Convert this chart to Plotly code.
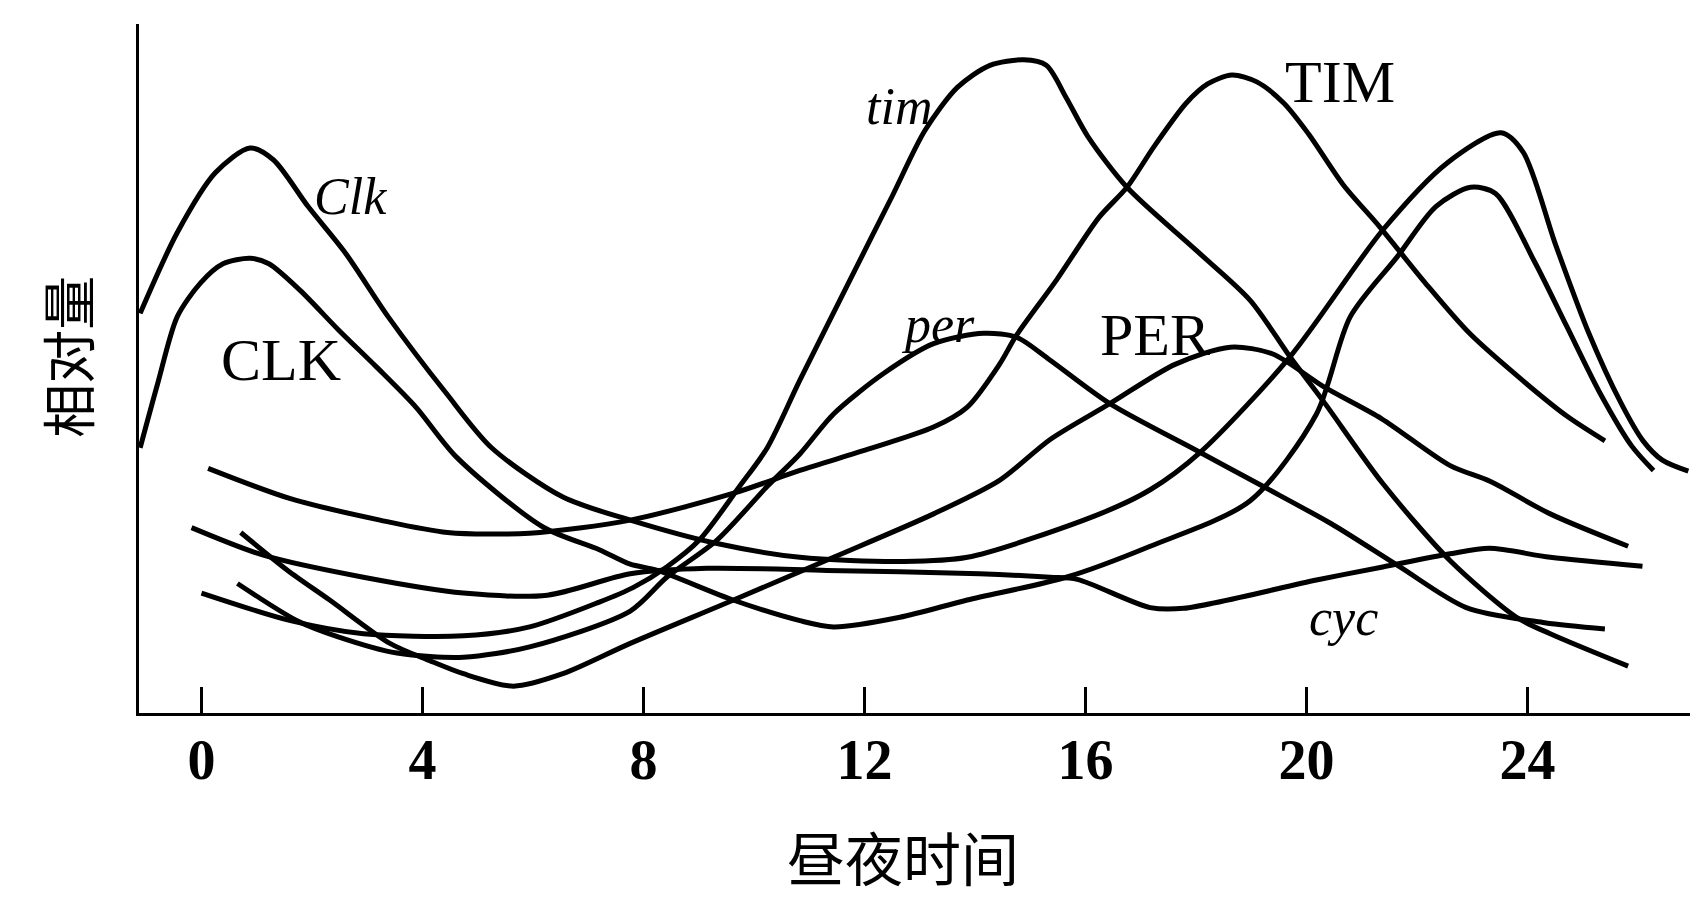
import plotly.graph_objects as go

# ---- data (hours of circadian time, relative amount 0-100) ----
clk_mrna_h = [-1.11, -0.44, 0.25, 0.88, 1.30, 1.93, 2.61, 3.38, 4.43, 5.25, 6.55, 7.76, 9.33, 10.83,
              12.64, 13.86, 16.26, 17.17, 18.07, 19.70, 21.38, 22.54, 23.52, 23.92, 24.51, 25.10,
              25.69, 26.09, 26.44, 26.91]
clk_mrna_v = [58.0, 69.7, 78.4, 82.0, 80.3, 73.5, 66.7, 57.5, 46.4, 38.5, 31.3, 28.0, 24.6, 22.6,
              22.0, 22.6, 28.9, 32.4, 37.8, 51.7, 70.1, 79.8, 84.2, 81.4, 67.9, 55.3,
              45.0, 39.5, 36.7, 35.1]

clk_prot_h = [-1.11, -0.79, -0.44, -0.02, 0.39, 0.88, 1.22, 1.79, 2.48, 3.17, 3.88, 4.62, 6.18, 7.20,
              7.76, 8.25, 9.62, 10.83, 11.44, 12.64, 13.86, 15.65, 17.17, 18.98, 20.18, 20.79,
              21.64, 22.34, 22.97, 23.42, 24.12, 24.71, 25.30, 25.89, 26.28]
clk_prot_v = [38.5, 47.9, 57.5, 62.4, 65.2, 66.0, 65.2, 61.3, 55.6, 50.2, 44.4, 37.1, 27.0, 23.7,
              21.6, 20.7, 16.4, 13.4, 12.5, 13.9, 16.4, 19.7, 24.2, 30.8, 43.4, 57.5,
              66.2, 73.5, 76.3, 75.4, 65.6, 56.1, 46.6, 38.7, 35.2]

tim_mrna_h = [0.0, 1.61, 2.93, 4.74, 5.94, 7.20, 7.81, 8.42, 9.01, 9.74, 10.24, 10.83, 11.74, 12.50,
              13.09, 13.68, 14.27, 14.88, 15.29, 15.65, 16.04, 16.75, 18.01, 18.98, 19.70, 20.30,
              21.38, 22.60, 23.80, 24.41, 25.82]
tim_mrna_v = [17.4, 13.4, 11.5, 11.2, 12.5, 16.1, 18.2, 21.2, 25.1, 32.9, 38.5, 48.3, 62.9, 75.0,
              84.5, 90.8, 94.0, 94.8, 94.0, 89.3, 83.7, 76.3, 67.1, 59.9, 51.7, 45.3,
              33.3, 22.1, 13.9, 11.5, 6.8]

tim_prot_h = [0.12, 1.61, 3.23, 4.45, 5.94, 7.76, 9.63, 10.83, 12.11, 13.25, 13.86, 14.45, 14.74,
              15.48, 16.24, 16.75, 17.23, 17.82, 18.21, 18.65, 19.10, 19.59, 20.04, 20.67, 21.32,
              22.15, 22.95, 23.92, 24.71, 25.40]
tim_prot_v = [35.5, 31.1, 28.0, 26.2, 26.1, 28.0, 31.9, 35.2, 38.4, 41.5, 44.4, 50.7, 54.7,
              62.9, 71.9, 76.3, 82.1, 88.5, 91.3, 92.6, 91.6, 88.5, 84.0, 76.6, 70.6,
              62.4, 55.1, 48.2, 43.1, 39.5]

per_mrna_h = [0.65, 1.73, 2.46, 3.54, 4.74, 5.94, 7.76, 8.42, 9.33, 10.24, 10.83, 11.44, 12.35,
              13.25, 14.16, 14.76, 15.36, 16.44, 18.01, 19.21, 20.44, 21.69, 22.89, 24.31, 25.40]
per_mrna_v = [18.8, 13.4, 11.1, 8.7, 8.1, 9.6, 14.8, 19.7, 25.1, 32.9, 37.6, 43.4, 49.3,
              53.6, 55.1, 54.5, 51.2, 44.9, 38.1, 32.9, 27.5, 21.2, 15.3, 13.1, 12.2]

per_prot_h = [0.71, 1.56, 2.32, 3.41, 4.13, 4.74, 5.65, 6.54, 7.76, 9.63, 11.44, 13.25, 14.45,
              15.36, 16.44, 17.62, 18.62, 19.39, 20.30, 21.36, 22.60, 23.33, 24.41, 25.82]
per_prot_v = [26.2, 20.7, 16.4, 10.1, 7.6, 5.7, 3.9, 5.7, 10.1, 16.4, 22.6, 28.9, 33.8,
              39.7, 44.9, 50.6, 53.1, 52.1, 47.4, 42.7, 35.9, 33.6, 28.9, 24.2]

cyc_mrna_h = [-0.18, 1.12, 2.93, 4.74, 6.26, 7.76, 9.15, 11.32, 14.08, 15.36, 15.85, 17.17, 17.78,
              20.18, 21.38, 22.60, 23.31, 24.41, 26.08]
cyc_mrna_v = [26.9, 22.9, 19.7, 17.4, 17.1, 20.2, 21.0, 20.7, 20.2, 19.7, 19.4, 15.3, 15.2,
              19.3, 21.2, 23.1, 23.9, 22.6, 21.3]

tick_vals = [0, 4, 8, 12, 16, 20, 24]
tick_text = ["0", "4", "8", "12", "16", "20", "24"]

labels = ["<i>Clk</i>", "CLK", "<i>tim</i>", "TIM", "<i>per</i>", "PER", "<i>cyc</i>"]
label_h = [2.70, 1.44, 12.62, 20.61, 13.33, 17.26, 20.67]
label_v = [74.9, 51.3, 88.0, 91.6, 56.4, 54.8, 13.9]
label_size = [52, 60, 52, 60, 52, 60, 52]

x_title = "昼夜时间"
y_title = "相对量"

# ---- figure ----
fig = go.Figure()
series = [
    (clk_mrna_h, clk_mrna_v), (clk_prot_h, clk_prot_v),
    (tim_mrna_h, tim_mrna_v), (tim_prot_h, tim_prot_v),
    (per_mrna_h, per_mrna_v), (per_prot_h, per_prot_v),
    (cyc_mrna_h, cyc_mrna_v),
]
for xs, ys in series:
    fig.add_trace(go.Scatter(
        x=xs, y=ys, mode="lines",
        line=dict(color="black", width=5, shape="spline", smoothing=0.8),
        hoverinfo="skip", showlegend=False,
    ))

serif = "Liberation Serif, Times New Roman, serif"
for t, h, v, s in zip(labels, label_h, label_v, label_size):
    fig.add_annotation(x=h, y=v, xref="x", yref="y", text=t, showarrow=False,
                       font=dict(family=serif, size=s, color="black"),
                       xanchor="center", yanchor="middle")

cjk = "Noto Sans CJK SC"
fig.add_annotation(x=0.4926, y=-0.2075, xref="paper", yref="paper", text=x_title,
                   showarrow=False, font=dict(family=cjk, size=58, color="black"),
                   xanchor="center", yanchor="middle")
fig.add_annotation(x=-0.0464, y=0.517, xref="paper", yref="paper", text=y_title,
                   showarrow=False, textangle=-90,
                   font=dict(family=cjk, size=54, color="black"),
                   xanchor="center", yanchor="middle")

fig.update_xaxes(
    range=[-1.131, 26.94], tickvals=tick_vals, ticktext=tick_text,
    ticks="inside", ticklen=26, tickwidth=2.5, tickcolor="black",
    showline=True, linecolor="black", linewidth=3,
    showgrid=False, zeroline=False, automargin=False,
    tickfont=dict(family=serif, size=56, color="black", weight="bold"),
    ticklabelstandoff=-4,
)
fig.update_yaxes(
    range=[0, 100], showticklabels=False, ticks="",
    showline=True, linecolor="black", linewidth=3,
    showgrid=False, zeroline=False, automargin=False,
)
fig.update_layout(
    width=1706, height=899,
    margin=dict(l=139, r=16, t=24, b=186),
    paper_bgcolor="white", plot_bgcolor="white",
)
fig.write_html("out.html", config={"displayModeBar": False},
               post_script="document.body.style.margin='0';document.body.style.overflow='hidden';")
